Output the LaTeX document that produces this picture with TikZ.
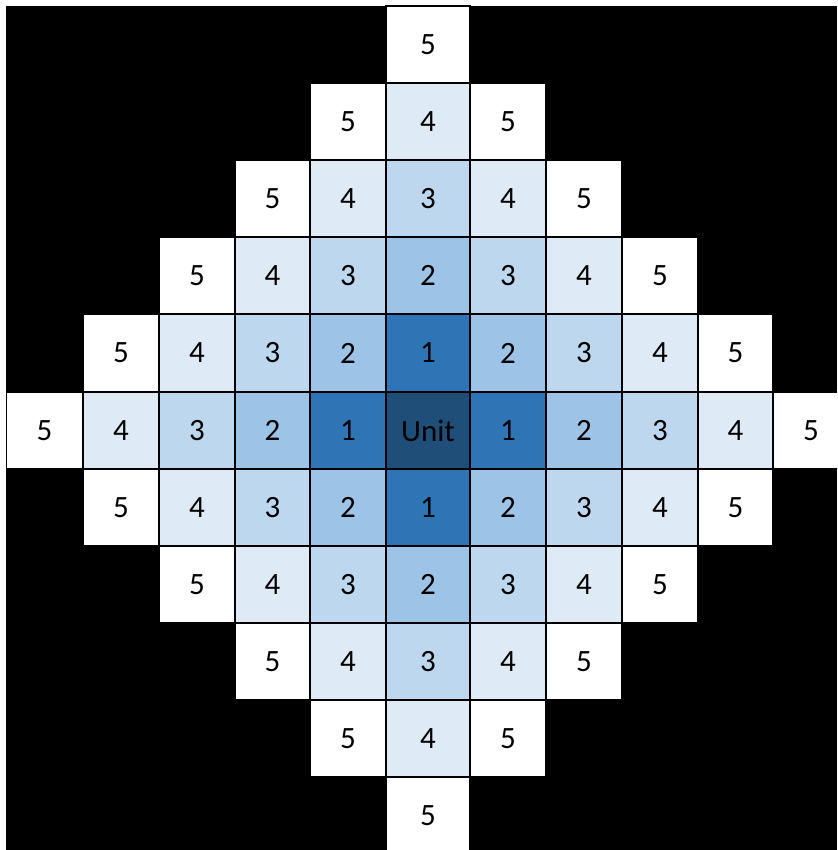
\documentclass[tikz,border=0pt]{standalone}
\usepackage{fontspec}
\setmainfont{Carlito}
% shades by distance from the unit cell
\definecolor{lv0}{HTML}{1F4E79}
\definecolor{lv1}{HTML}{2E75B6}
\definecolor{lv2}{HTML}{9DC3E6}
\definecolor{lv3}{HTML}{BDD7EE}
\definecolor{lv4}{HTML}{DEEBF7}
\definecolor{lv5}{HTML}{FFFFFF}
% column and row edges of the sheet grid
\def\colx{{6,83,159,235,310,386,470,546,622,698,773,849}}
\def\rowy{{6,83,160,237,314,392,469,546,623,700,777,854}}
\begin{document}
\begin{tikzpicture}[x=1pt,y=-1pt,
  cell/.style={draw=black, line width=1.6pt, inner sep=0pt, outer sep=0pt,
    font=\fontsize{31}{37}\selectfont, text=black}]
\useasboundingbox (0,0) rectangle (837,850);
\fill[black] (6,6) rectangle (837,850);
\begin{scope}
\clip (6,6) rectangle (837,850);
\foreach \i in {0,...,10} {
  \foreach \j in {0,...,10} {
    \pgfmathtruncatemacro\d{abs(\i-5)+abs(\j-5)}
    \ifnum\d<6
      \pgfmathsetmacro\xl{\colx[\i]}
      \pgfmathsetmacro\xr{\colx[\i+1]}
      \pgfmathsetmacro\yt{\rowy[\j]}
      \pgfmathsetmacro\yb{\rowy[\j+1]}
      \pgfmathsetmacro\w{\xr-\xl}
      \pgfmathsetmacro\h{\yb-\yt}
      \node[cell, fill=lv\d, minimum width=\w pt, minimum height=\h pt]
        (c\i-\j) at ({(\xl+\xr)/2},{(\yt+\yb)/2})
        {\ifnum\d=0 Unit\else\d\fi};
    \fi
  }
}
\end{scope}
\end{tikzpicture}
\end{document}
